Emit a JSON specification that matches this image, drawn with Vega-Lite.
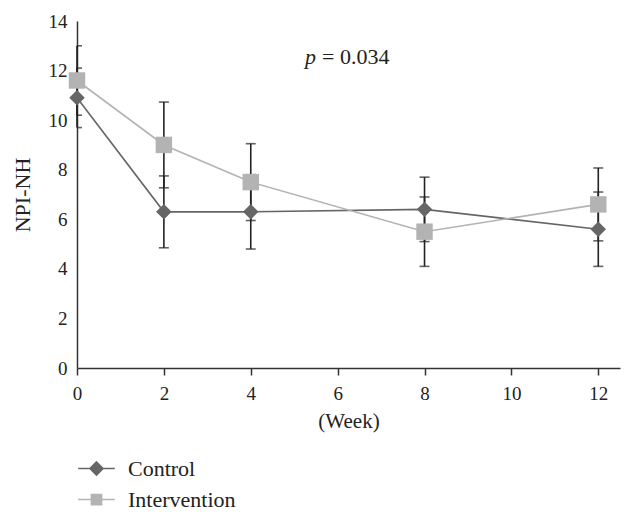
{
  "$schema": "https://vega.github.io/schema/vega-lite/v6.json",
  "width": 543,
  "height": 347,
  "autosize": "none",
  "padding": {"left": 77, "top": 21, "right": 14, "bottom": 149},
  "config": {
    "view": {"stroke": null},
    "font": "Liberation Serif",
    "axis": {
      "grid": false,
      "domainColor": "#333333",
      "domainWidth": 1.5,
      "tickColor": "#333333",
      "tickWidth": 1.5,
      "labelFont": "Liberation Serif",
      "labelFontSize": 19,
      "labelColor": "#222222",
      "titleFont": "Liberation Serif",
      "titleFontWeight": "normal",
      "titleColor": "#222222"
    }
  },
  "data": {
    "values": [
      {"week": 0, "group": "Control", "mean": 10.9, "lower": 9.7, "upper": 12.1},
      {"week": 2, "group": "Control", "mean": 6.3, "lower": 4.85, "upper": 7.75},
      {"week": 4, "group": "Control", "mean": 6.3, "lower": 4.8, "upper": 7.8},
      {"week": 8, "group": "Control", "mean": 6.4, "lower": 5.1, "upper": 7.7},
      {"week": 12, "group": "Control", "mean": 5.6, "lower": 4.1, "upper": 7.1},
      {"week": 0, "group": "Intervention", "mean": 11.6, "lower": 10.2, "upper": 13.0},
      {"week": 2, "group": "Intervention", "mean": 9.0, "lower": 7.27, "upper": 10.73},
      {"week": 4, "group": "Intervention", "mean": 7.5, "lower": 5.95, "upper": 9.05},
      {"week": 8, "group": "Intervention", "mean": 5.5, "lower": 4.1, "upper": 6.9},
      {"week": 12, "group": "Intervention", "mean": 6.6, "lower": 5.13, "upper": 8.07}
    ]
  },
  "encoding": {
    "x": {
      "field": "week",
      "type": "quantitative",
      "scale": {"domain": [0, 12.5], "nice": false},
      "axis": {
        "values": [0, 2, 4, 6, 8, 10, 12],
        "title": "(Week)",
        "titleFontSize": 21,
        "tickSize": 7,
        "labelPadding": 9,
        "titlePadding": 7,
        "labelFlush": false
      }
    }
  },
  "layer": [
    {
      "mark": {"type": "rule", "color": "#222222", "strokeWidth": 1.6},
      "encoding": {
        "y": {"field": "lower", "type": "quantitative"},
        "y2": {"field": "upper"}
      }
    },
    {
      "mark": {"type": "tick", "orient": "horizontal", "color": "#222222", "size": 10, "thickness": 1.6, "clip": true},
      "encoding": {"y": {"field": "lower", "type": "quantitative"}}
    },
    {
      "mark": {"type": "tick", "orient": "horizontal", "color": "#222222", "size": 10, "thickness": 1.6, "clip": true},
      "encoding": {"y": {"field": "upper", "type": "quantitative"}}
    },
    {
      "mark": {"type": "line", "strokeWidth": 1.6},
      "encoding": {
        "y": {
          "field": "mean",
          "type": "quantitative",
          "scale": {"domain": [0, 14], "nice": false},
          "axis": {
            "values": [0, 2, 4, 6, 8, 10, 12, 14],
            "title": "NPI-NH",
            "titleFontSize": 22,
            "ticks": false,
            "tickSize": 0,
            "labelPadding": 10,
            "titlePadding": 14
          }
        },
        "color": {
          "field": "group",
          "type": "nominal",
          "scale": {"domain": ["Control", "Intervention"], "range": ["#666666", "#b3b3b3"]},
          "legend": {
            "title": null,
            "orient": "none",
            "legendX": 0,
            "legendY": 428,
            "direction": "vertical",
            "labelFont": "Liberation Serif",
            "labelFontSize": 22,
            "labelColor": "#222222",
            "labelOffset": 12,
            "symbolSize": 1340,
            "symbolStrokeWidth": 1.5,
            "rowPadding": -2,
            "encode": {
              "symbols": {
                "update": {
                  "shape": {"signal": "datum.value === 'Control' ? 'M-1,0H1M0,-0.36L0.36,0L0,0.36L-0.36,0Z' : 'M-1,0H1M-0.28,-0.28H0.28V0.28H-0.28Z'"},
                  "fill": {"signal": "datum.value === 'Control' ? '#666666' : '#b3b3b3'"},
                  "stroke": {"signal": "datum.value === 'Control' ? '#666666' : '#b3b3b3'"},
                  "strokeWidth": {"value": 1.5},
                  "opacity": {"value": 1},
                  "fillOpacity": {"value": 1}
                }
              }
            }
          }
        }
      }
    },
    {
      "transform": [{"filter": "datum.group === 'Control'"}],
      "mark": {"type": "point", "filled": true, "opacity": 1, "shape": "diamond", "size": 240, "color": "#666666"},
      "encoding": {"y": {"field": "mean", "type": "quantitative"}}
    },
    {
      "transform": [{"filter": "datum.group === 'Intervention'"}],
      "mark": {"type": "point", "filled": true, "opacity": 1, "shape": "square", "size": 270, "color": "#b3b3b3"},
      "encoding": {"y": {"field": "mean", "type": "quantitative"}}
    },
    {
      "transform": [{"filter": "datum.week === 0 && datum.group === 'Control'"}],
      "mark": {"type": "text", "align": "left", "baseline": "alphabetic", "fontSize": 22, "fontStyle": "italic", "color": "#222222", "font": "Liberation Serif", "text": "p"},
      "encoding": {
        "x": {"datum": 5.25, "type": "quantitative"},
        "y": {"datum": 12.26, "type": "quantitative"}
      }
    },
    {
      "transform": [{"filter": "datum.week === 0 && datum.group === 'Control'"}],
      "mark": {"type": "text", "align": "left", "baseline": "alphabetic", "fontSize": 22, "color": "#222222", "font": "Liberation Serif", "text": "= 0.034"},
      "encoding": {
        "x": {"datum": 5.64, "type": "quantitative"},
        "y": {"datum": 12.26, "type": "quantitative"}
      }
    }
  ]
}
